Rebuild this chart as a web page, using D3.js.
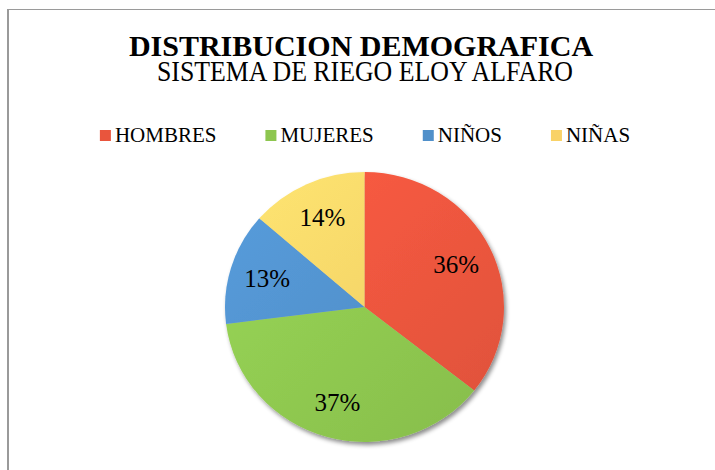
<!DOCTYPE html>
<html>
<head>
<meta charset="utf-8">
<script src="https://cdn.jsdelivr.net/npm/d3@7"></script>
<style>
  body { margin: 0; background: #fff; }
</style>
</head>
<body>
<div id="chart"></div>
<script>
var categories = ["HOMBRES", "MUJERES", "NIÑOS", "NIÑAS"];
var values = [35.6, 37.4, 13.4, 13.6];
var colors = ["#E9553D", "#8DC64F", "#5090CA", "#F9D267"];
var title = "DISTRIBUCION DEMOGRAFICA";
var subtitle = "SISTEMA DE RIEGO ELOY ALFARO";

var width = 715;
var height = 470;
var cx = 364.5, cy = 307;
var rx = 139.5, ry = 135;
var r = 137;
var labelRadius = 100;
var serif = "'Liberation Serif', Tinos, 'Times New Roman', 'DejaVu Serif', serif";

var svg = d3.select("#chart").append("svg")
  .attr("width", width)
  .attr("height", height)
  .attr("font-family", serif);

var defs = svg.append("defs");

var shadow = defs.append("filter")
  .attr("id", "shadow")
  .attr("x", "-10%").attr("y", "-10%")
  .attr("width", "130%").attr("height", "130%");
shadow.append("feDropShadow")
  .attr("dx", 2).attr("dy", 3)
  .attr("stdDeviation", 2)
  .attr("flood-color", "#000")
  .attr("flood-opacity", 0.45);

/* one soft gradient per slice colour */
colors.forEach(function(c, i) {
  var g = defs.append("linearGradient")
    .attr("id", "grad" + i)
    .attr("gradientUnits", "userSpaceOnUse")
    .attr("x1", -r).attr("y1", -r)
    .attr("x2", r).attr("y2", r);
  g.append("stop").attr("offset", "0%").attr("stop-color", d3.color(c).brighter(0.25));
  g.append("stop").attr("offset", "100%").attr("stop-color", d3.color(c).darker(0.15));
});

/* frame */
svg.append("line")
  .attr("x1", 7).attr("x2", width)
  .attr("y1", 9.5).attr("y2", 9.5)
  .attr("stroke", "#9a9a9a").attr("stroke-width", 1);
svg.append("line")
  .attr("x1", 8).attr("x2", 8)
  .attr("y1", 9).attr("y2", height)
  .attr("stroke", "#9a9a9a").attr("stroke-width", 2);

/* titles */
svg.append("text")
  .attr("x", 361).attr("y", 56)
  .attr("text-anchor", "middle")
  .attr("font-family", serif)
  .attr("font-size", 30)
  .attr("font-weight", "bold")
  .text(title);

svg.append("text")
  .attr("x", 365).attr("y", 81)
  .attr("text-anchor", "middle")
  .attr("textLength", 416)
  .attr("lengthAdjust", "spacingAndGlyphs")
  .attr("font-family", serif)
  .attr("font-size", 30)
  .text(subtitle);

/* legend */
var legend = svg.append("g");
var items = legend.selectAll("g")
  .data(categories).enter()
  .append("g");
items.append("rect")
  .attr("width", 11).attr("height", 11)
  .attr("y", 130)
  .attr("fill", (d, i) => colors[i]);
items.append("text")
  .attr("x", 15).attr("y", 142)
  .attr("font-family", serif)
  .attr("font-size", 21)
  .text(d => d);

var xpos = 0;
items.each(function() {
  var w = 15 + d3.select(this).select("text").node().getComputedTextLength();
  d3.select(this).attr("transform", `translate(${xpos},0)`);
  xpos += w + 49;
});
var legendWidth = xpos - 49;
legend.attr("transform", `translate(${365 - legendWidth / 2},0)`);

/* pie */
var pie = d3.pie().sort(null).value(d => d);
var arcs = pie(values);
var arc = d3.arc().innerRadius(0).outerRadius(r);
var labelArc = d3.arc().innerRadius(labelRadius).outerRadius(labelRadius);

var pieG = svg.append("g")
  .attr("transform", `translate(${cx},${cy}) scale(${rx / r},${ry / r})`);

pieG.append("g")
  .attr("filter", "url(#shadow)")
  .selectAll("path")
  .data(arcs).enter()
  .append("path")
  .attr("d", arc)
  .attr("fill", (d, i) => `url(#grad${i})`);

svg.append("g")
  .attr("transform", `translate(${cx},${cy})`)
  .selectAll("text")
  .data(arcs).enter()
  .append("text")
  .attr("x", d => labelArc.centroid(d)[0] * rx / r)
  .attr("y", d => labelArc.centroid(d)[1] * ry / r)
  .attr("dy", "0.35em")
  .attr("text-anchor", "middle")
  .attr("font-family", serif)
  .attr("font-size", 25)
  .text(d => Math.round(d.value) + "%");
</script>
</body>
</html>
